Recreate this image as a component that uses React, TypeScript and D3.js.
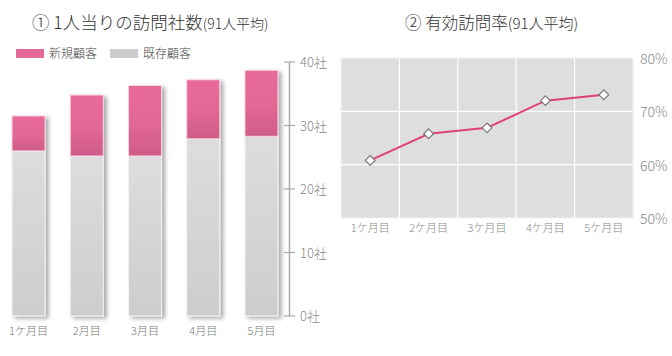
import React from "react";
import * as d3 from "d3";

const barCategories = ["1ケ月目", "2月目", "3月目", "4月目", "5月目"];
const existingValues = [26.0, 25.2, 25.2, 27.9, 28.3];
const newValues = [5.5, 9.6, 11.1, 9.3, 10.4];
const barTicks = [0, 10, 20, 30, 40];

const lineCategories = ["1ケ月目", "2ケ月目", "3ケ月目", "4ケ月目", "5ケ月目"];
const rateValues = [60.8, 65.8, 66.9, 72.0, 73.1];
const rateTicks = [50, 60, 70, 80];

const FONT = "'Noto Sans CJK JP', 'Noto Sans', sans-serif";

export default function App() {
  // Left chart scales
  const xb = d3.scaleBand().domain(barCategories).range([12, 278]).paddingInner(0.433).paddingOuter(0);
  const yb = d3.scaleLinear().domain([0, 40]).range([316, 62]);

  // Right chart scales
  const xl = d3.scaleBand().domain(lineCategories).range([341, 633]);
  const yl = d3.scaleLinear().domain([50, 80]).range([218, 58]);
  const line = d3
    .line<number>()
    .x((_, i) => (xl(lineCategories[i]) as number) + xl.bandwidth() / 2)
    .y((d) => yl(d));

  return (
    <svg width={672} height={356} style={{ position: "absolute", left: 0, top: 0, fontFamily: FONT }}>
      <defs>
        <linearGradient id="pinkG" x1="0" y1="0" x2="0" y2="1">
          <stop offset="0" stopColor="#e86a9b" />
          <stop offset="0.5" stopColor="#e46896" />
          <stop offset="1" stopColor="#cf5b88" />
        </linearGradient>
        <linearGradient id="grayG" x1="0" y1="0" x2="0" y2="1">
          <stop offset="0" stopColor="#dddddd" />
          <stop offset="1" stopColor="#cdcdcd" />
        </linearGradient>
        <filter id="shadow" x="-20%" y="-10%" width="150%" height="130%">
          <feGaussianBlur in="SourceAlpha" stdDeviation="2" />
          <feOffset dx="3" dy="2" result="off" />
          <feComponentTransfer>
            <feFuncA type="linear" slope="0.35" />
          </feComponentTransfer>
          <feMerge>
            <feMergeNode />
            <feMergeNode in="SourceGraphic" />
          </feMerge>
        </filter>
      </defs>
      <rect x={0} y={0} width={672} height={356} fill="#ffffff" />

      {/* Titles */}
      <g fill="#333" fontWeight={300}>
        <text x={32} y={29} fontSize={17.5}>
          ① 1人当りの訪問社数<tspan fontSize={14}>(91人平均)</tspan>
        </text>
        <text x={405} y={29} fontSize={16.5}>
          ② 有効訪問率<tspan fontSize={15}>(91人平均)</tspan>
        </text>
      </g>

      {/* Legend */}
      <rect x={16} y={49} width={28} height={9} fill="#e66a99" />
      <text x={49} y={58} fontSize={12} fill="#444" fontWeight={300}>新規顧客</text>
      <rect x={110} y={49} width={28} height={9} fill="#cccccc" />
      <text x={143} y={58} fontSize={12} fill="#444" fontWeight={300}>既存顧客</text>

      {/* Bars */}
      {barCategories.map((c, i) => {
        const x = xb(c) as number;
        const w = xb.bandwidth();
        const yTop = yb(existingValues[i] + newValues[i]);
        const yMid = yb(existingValues[i]);
        const y0 = yb(0);
        return (
          <g key={c} filter="url(#shadow)">
            <rect x={x} y={yMid} width={w} height={y0 - yMid} fill="url(#grayG)" stroke="#f4f4f4" strokeWidth={1} />
            <rect x={x} y={yTop} width={w} height={yMid - yTop} fill="url(#pinkG)" stroke="#f6d6e2" strokeWidth={1} />
          </g>
        );
      })}
      {barCategories.map((c) => (
        <text
          key={c}
          x={(xb(c) as number) + xb.bandwidth() / 2}
          y={335}
          fontSize={11}
          fill="#777"
          textAnchor="middle"
          fontWeight={300}
        >
          {c}
        </text>
      ))}

      {/* Left axis */}
      <line x1={289.5} x2={289.5} y1={yb(40)} y2={yb(0)} stroke="#aaa" strokeWidth={1.5} />
      {barTicks.map((t) => (
        <g key={t}>
          <line x1={284} x2={295} y1={yb(t)} y2={yb(t)} stroke="#aaa" strokeWidth={1.2} />
          <text x={300} y={yb(t) + 5} fontSize={13} fill="#888" fontWeight={300}>
            {t}社
          </text>
        </g>
      ))}

      {/* Line chart */}
      <rect x={341} y={58} width={292} height={160} fill="#dedede" />
      {lineCategories.slice(1).map((c) => (
        <line key={c} x1={xl(c) as number} x2={xl(c) as number} y1={58} y2={218} stroke="#ffffff" strokeWidth={1.2} />
      ))}
      {rateTicks.slice(1, -1).map((t) => (
        <line key={t} x1={341} x2={633} y1={yl(t)} y2={yl(t)} stroke="#ffffff" strokeWidth={1.2} />
      ))}
      <rect x={341} y={58} width={292} height={160} fill="none" stroke="#f2f2f2" strokeWidth={1} />
      <path d={line(rateValues) || ""} fill="none" stroke="#e0407c" strokeWidth={2} />
      {rateValues.map((v, i) => {
        const cx = (xl(lineCategories[i]) as number) + xl.bandwidth() / 2;
        const cy = yl(v);
        return (
          <path
            key={i}
            d={d3.symbol(d3.symbolDiamond2, 60)() || ""}
            transform={`translate(${cx},${cy})`}
            fill="#ffffff"
            stroke="#777"
            strokeWidth={1.2}
          />
        );
      })}
      {lineCategories.map((c) => (
        <text
          key={c}
          x={(xl(c) as number) + xl.bandwidth() / 2}
          y={232}
          fontSize={11}
          fill="#888"
          textAnchor="middle"
          fontWeight={300}
        >
          {c}
        </text>
      ))}
      {rateTicks.map((t) => (
        <text key={t} x={640} y={yl(t) + 6} fontSize={14} fill="#888" fontWeight={300}>
          {t}%
        </text>
      ))}
    </svg>
  );
}
